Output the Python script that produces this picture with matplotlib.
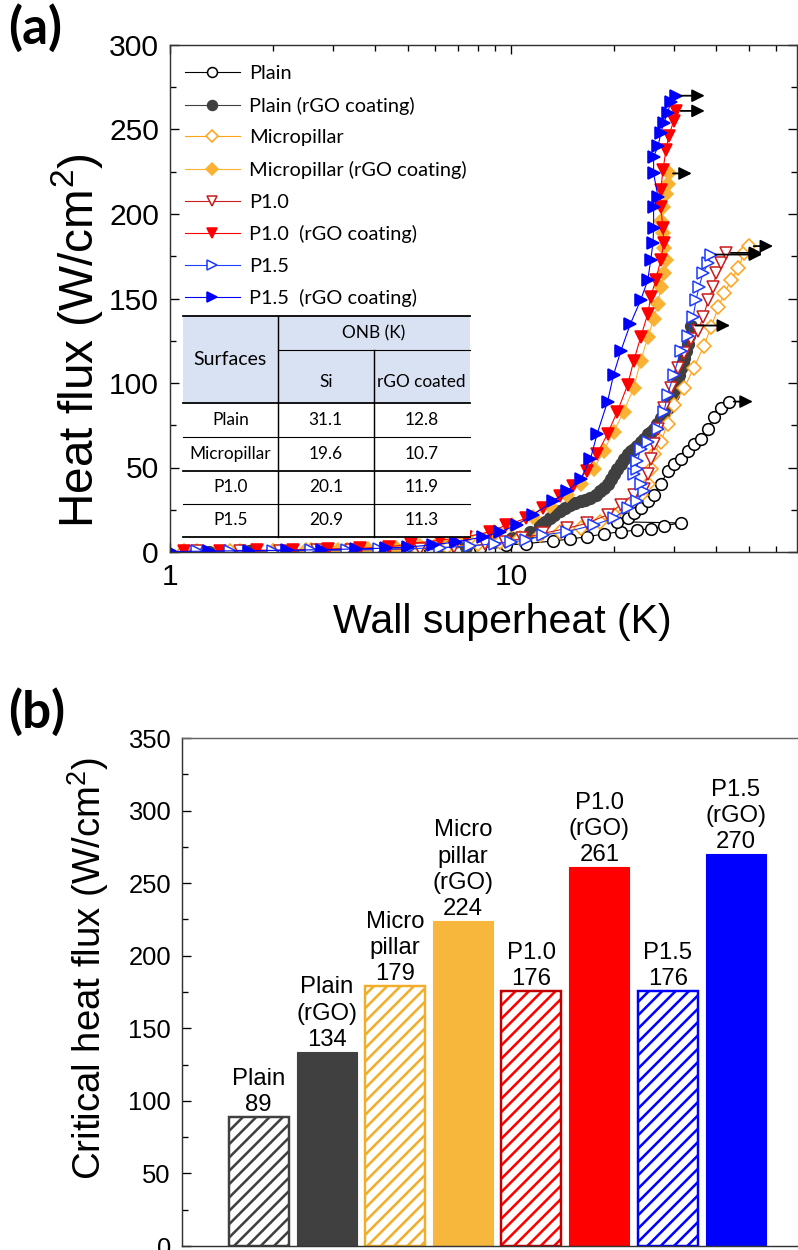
import matplotlib
matplotlib.use("Agg")
import matplotlib.pyplot as plt
from matplotlib.ticker import MultipleLocator, FixedLocator, NullFormatter, FixedFormatter

DPI = 80
plt.rcParams['font.family'] = ['Liberation Sans', 'DejaVu Sans']
plt.rcParams['mathtext.fontset'] = 'custom'
plt.rcParams['mathtext.rm'] = 'Liberation Sans'
plt.rcParams['hatch.linewidth'] = 2.3

# ---- (a) boiling curves: wall superheat (K) vs heat flux (W/cm2) ----
plain_x = [1.2, 1.6, 2.1, 2.8, 3.6, 4.6, 5.8, 7.0, 8.1, 9.7, 11.1, 13.3, 14.9, 16.7, 18.7,
           21.0, 23.5, 25.7, 28.1, 31.5, 20.5, 22.0, 23.0, 24.0, 25.2, 26.2, 27.5, 28.8,
           30.0, 31.5, 33.0, 34.4, 36.1, 37.9, 39.4, 41.4, 43.7]
plain_y = [0.2, 0.3, 0.5, 0.7, 0.9, 1.2, 1.5, 2.0, 2.5, 4.0, 5.0, 6.5, 7.7, 9.0, 10.7,
           12.0, 13.0, 13.7, 15.5, 17.2, 17.9, 20.0, 23.0, 26.0, 30.0, 34.0, 40.0, 48.0,
           52.0, 55.0, 60.0, 64.0, 67.0, 73.0, 80.0, 85.0, 89.0]

plain_rgo_x = [1.3, 1.7, 2.2, 2.8, 3.5, 4.3, 5.2, 6.2, 7.4, 8.9, 10.1, 11.4, 12.2, 12.6,
               13.0, 13.4, 13.9, 14.4, 14.9, 15.4, 16.0, 16.5, 17.1, 17.7, 18.3, 18.8,
               19.2, 19.6, 20.0, 20.5, 21.0, 21.5, 22.0, 22.5, 22.9, 23.4, 24.0, 24.6,
               25.2, 25.7, 26.2, 26.8, 27.5, 28.1, 28.8, 29.3, 29.9, 30.4, 30.9, 31.2,
               31.5, 31.9, 32.2, 32.6, 33.0, 33.3, 33.7]
plain_rgo_y = [0.2, 0.3, 0.4, 0.6, 0.8, 1.0, 1.2, 1.5, 3.0, 6.0, 8.0, 12.0, 16.0, 18.0,
               20.0, 22.0, 24.0, 26.0, 28.0, 29.0, 30.0, 31.0, 32.0, 34.0, 36.0, 38.0,
               40.0, 43.0, 46.0, 49.0, 52.0, 55.0, 58.0, 60.0, 61.0, 63.0, 65.0, 67.0,
               70.0, 71.0, 73.0, 76.0, 79.0, 82.0, 85.0, 89.0, 93.0, 97.0, 101.0, 105.0,
               109.0, 112.0, 115.0, 119.0, 123.0, 128.0, 134.0]

micro_x = [1.1, 1.5, 2.0, 2.6, 3.3, 4.2, 5.3, 6.5, 8.0, 9.3, 10.6, 12.2, 13.9, 16.0, 18.3,
           20.0, 22.0, 24.0, 25.2, 25.7, 26.2, 27.5, 28.8, 30.0, 32.2, 34.4, 36.8, 38.6,
           40.6, 42.2, 44.3, 46.4, 48.3, 50.0]
micro_y = [0.5, 0.5, 0.8, 1.0, 1.3, 1.6, 2.0, 3.0, 4.5, 6.0, 8.0, 10.0, 12.0, 14.0, 18.0,
           22.0, 28.0, 34.0, 40.0, 49.0, 58.0, 65.0, 76.0, 87.0, 97.0, 109.0, 122.0, 133.0,
           145.0, 153.0, 161.0, 168.0, 177.0, 181.0]

micro_rgo_x = [1.2, 1.6, 2.0, 2.5, 3.1, 3.8, 4.6, 5.4, 6.2, 7.4, 8.9, 10.1, 11.6, 13.0,
               14.6, 16.0, 17.5, 18.7, 20.0, 21.4, 22.9, 24.0, 25.2, 26.2, 27.0, 27.5,
               28.1, 28.5, 28.1, 27.9, 27.5, 27.9, 28.5, 28.8, 29.0]
micro_rgo_y = [0.3, 0.5, 0.8, 1.0, 1.3, 1.6, 2.2, 3.5, 6.5, 9.0, 12.0, 16.0, 21.0, 27.0,
               34.0, 40.0, 49.0, 60.0, 71.0, 83.0, 97.0, 113.0, 127.0, 138.0, 147.0, 157.0,
               165.0, 173.0, 180.0, 189.0, 196.0, 204.0, 212.0, 218.0, 224.0]

p10_x = [1.2, 1.6, 2.1, 2.7, 3.4, 4.3, 5.4, 6.8, 8.4, 9.6, 10.8, 12.4, 14.6, 16.7, 19.2,
         21.0, 22.9, 24.5, 25.2, 25.7, 26.2, 27.0, 28.1, 29.4, 30.9, 32.2, 33.7, 35.4,
         36.6, 37.9, 39.2, 40.0, 41.4, 42.8]
p10_y = [0.3, 0.5, 0.7, 0.9, 1.2, 1.5, 2.0, 3.0, 4.5, 6.0, 8.0, 11.0, 14.0, 17.0, 22.0,
         28.0, 34.0, 37.0, 46.0, 55.0, 64.0, 73.0, 85.0, 97.0, 109.0, 118.0, 126.0, 131.0,
         139.0, 149.0, 157.0, 165.0, 171.0, 177.0]

p10_rgo_x = [1.1, 1.4, 1.8, 2.3, 2.9, 3.6, 4.4, 5.1, 6.2, 7.4, 8.7, 9.7, 11.1, 12.4, 13.9,
             15.2, 16.7, 17.9, 19.2, 20.5, 22.0, 22.9, 24.0, 25.2, 25.7, 26.6, 27.5, 28.1,
             27.9, 27.5, 27.5, 27.9, 28.5, 29.0, 30.0, 30.5]
p10_rgo_y = [0.5, 0.8, 1.0, 1.3, 1.7, 2.2, 3.0, 5.0, 7.0, 9.0, 12.0, 16.0, 20.0, 26.0, 33.0,
             39.0, 48.0, 58.0, 70.0, 83.0, 99.0, 113.0, 127.0, 141.0, 151.0, 161.0, 173.0,
             183.0, 192.0, 204.0, 214.0, 226.0, 238.0, 246.0, 255.0, 261.0]

p15_x = [1.2, 1.5, 2.0, 2.6, 3.3, 4.1, 5.0, 6.2, 7.6, 9.0, 10.0, 11.1, 12.4, 14.6, 17.5,
         20.0, 22.0, 23.5, 24.5, 24.0, 22.9, 23.5, 23.5, 24.0, 25.2, 27.0, 28.1, 28.8, 30.0,
         31.5, 33.0, 34.2, 34.9, 35.6, 36.6, 37.9, 38.6]
p15_y = [0.3, 0.5, 0.7, 0.9, 1.2, 1.5, 2.0, 2.5, 3.5, 5.0, 6.0, 7.0, 10.0, 12.0, 16.0,
         20.0, 26.0, 30.0, 36.0, 40.0, 46.0, 49.0, 54.0, 61.0, 65.0, 73.0, 83.0, 93.0,
         105.0, 119.0, 128.0, 139.0, 149.0, 157.0, 165.0, 171.0, 176.0]

p15_rgo_x = [1.0, 1.3, 1.7, 2.2, 2.8, 3.5, 4.3, 5.0, 5.9, 6.9, 8.3, 9.3, 10.4, 11.6, 13.3,
             14.6, 16.0, 17.1, 17.9, 19.2, 20.0, 21.0, 22.4, 24.0, 25.2, 25.7, 26.1, 26.2,
             26.2, 27.0, 26.2, 26.2, 27.0, 27.5, 28.1, 28.8, 29.4, 30.5]
p15_rgo_y = [0.3, 0.5, 0.8, 1.0, 1.4, 1.8, 2.3, 3.0, 4.2, 6.0, 8.9, 11.9, 16.0, 22.0, 30.0,
             36.0, 43.0, 55.0, 70.0, 89.0, 105.0, 119.0, 135.0, 149.0, 161.0, 173.0, 183.0,
             192.0, 204.0, 210.0, 224.0, 234.0, 240.0, 248.0, 254.0, 260.0, 266.0, 270.0]

series_labels = ['Plain', 'Plain (rGO coating)', 'Micropillar', 'Micropillar (rGO coating)',
                 'P1.0', 'P1.0  (rGO coating)', 'P1.5', 'P1.5  (rGO coating)']
series_x = [plain_x, plain_rgo_x, micro_x, micro_rgo_x, p10_x, p10_rgo_x, p15_x, p15_rgo_x]
series_y = [plain_y, plain_rgo_y, micro_y, micro_rgo_y, p10_y, p10_rgo_y, p15_y, p15_rgo_y]
series_colors = ['black', '#404040', '#FFA31A', '#F9B233', '#C81E1E', '#FF0000', '#1E3CFF', '#0000FF']
series_markers = ['o', 'o', 'D', 'D', 'v', 'v', '>', '>']
series_filled = [False, True, False, True, False, True, False, True]
# end of the black CHF arrows (wall superheat, K)
arrow_end = [51.2, 43.9, 58.7, 33.9, 54.5, 37.0, 54.5, 37.0]

# ONB table
table_surfaces = ['Plain', 'Micropillar', 'P1.0', 'P1.5']
onb_si = ['31.1', '19.6', '20.1', '20.9']
onb_rgo = ['12.8', '10.7', '11.9', '11.3']

# ---- (b) critical heat flux ----
bar_labels = ['Plain', 'Plain\n(rGO)', 'Micro\npillar', 'Micro\npillar\n(rGO)',
              'P1.0', 'P1.0\n(rGO)', 'P1.5', 'P1.5\n(rGO)']
bar_values = [89, 134, 179, 224, 176, 261, 176, 270]
bar_fill = ['#404040', '#404040', '#F2AE2A', '#F6B73C', '#FF0000', '#FF0000', '#0000FF', '#0000FF']
bar_edge = ['#404040', '#404040', '#F0AE2A', '#F6B73C', '#C00000', '#FF0000', '#0000FF', '#0000FF']
bar_hatched = [True, False, True, False, True, False, True, False]

fig = plt.figure(figsize=(798 / DPI, 1250 / DPI), dpi=DPI)
W, H = 798.0, 1250.0

# ================= panel (a) =================
ax = fig.add_axes([170 / W, 1 - 552 / H, 627 / W, 507 / H])
for xs, ys, lab, c, m, f in zip(series_x, series_y, series_labels, series_colors,
                                 series_markers, series_filled):
    ms = 8.5 if m == 'D' else 10.5
    ax.plot(xs, ys, color=c, lw=1.0, marker=m, ms=ms, mec=c, mew=1.4,
            mfc=c if f else 'white', label=lab)
for xs, ys, xe in zip(series_x, series_y, arrow_end):
    ax.annotate('', xy=(xe, ys[-1]), xytext=(xs[-1] * 1.03, ys[-1]),
                arrowprops=dict(arrowstyle='-|>', color='black', lw=1.6, mutation_scale=24,
                                shrinkA=0, shrinkB=0))

ax.set_xscale('log')
ax.set_xlim(1, 69)
ax.set_ylim(0, 300)
ax.xaxis.set_major_locator(FixedLocator([1, 10]))
ax.xaxis.set_major_formatter(FixedFormatter(['1', '10']))
ax.xaxis.set_minor_locator(FixedLocator([2, 3, 4, 5, 6, 7, 8, 9, 20, 30, 40, 50, 60]))
ax.xaxis.set_minor_formatter(NullFormatter())
ax.yaxis.set_major_locator(MultipleLocator(50))
ax.yaxis.set_minor_locator(MultipleLocator(25))
ax.tick_params(which='both', direction='in', top=True, right=True, labelsize=27,
               width=1.2, pad=10)
ax.tick_params(which='major', length=8)
ax.tick_params(which='minor', length=5)
for s in ax.spines.values():
    s.set_linewidth(1.3)
    s.set_color('#333333')

ax.set_ylabel('Heat flux (W/cm$^\\mathregular{2}$)', fontsize=43)
ax.yaxis.set_label_coords(-0.104, 0.418)
ax.set_xlabel('Wall superheat (K)', fontsize=37)
ax.xaxis.set_label_coords(0.53, -0.100)

ax.legend(loc='upper left', bbox_to_anchor=(-0.008, 1.0), frameon=False,
          prop={'family': 'Lato', 'size': 18}, handlelength=2.75, handletextpad=0.45,
          labelspacing=0.73, borderaxespad=0.0, borderpad=1.0, numpoints=1,
          markerscale=0.85)

# ONB table drawn in axes coordinates
tc = [0.0207, 0.172, 0.325, 0.478]
tr = [0.4655, 0.398, 0.294, 0.2268, 0.1598, 0.0947, 0.0296]
tkw = dict(transform=ax.transAxes, zorder=6)
ax.add_patch(plt.Rectangle((tc[0], tr[6]), tc[3] - tc[0], tr[2] - tr[6],
                           facecolor='white', edgecolor='none', **tkw))
ax.add_patch(plt.Rectangle((tc[0], tr[2]), tc[3] - tc[0], tr[0] - tr[2],
                           facecolor='#D9E2F3', edgecolor='none', **tkw))
for r, x0, lw in [(tr[0], tc[0], 1.6), (tr[1], tc[1], 1.0), (tr[2], tc[0], 1.6),
                  (tr[3], tc[0], 1.0), (tr[4], tc[0], 1.6), (tr[5], tc[0], 1.0),
                  (tr[6], tc[0], 1.6)]:
    ax.plot([x0, tc[3]], [r, r], color='black', lw=lw, **tkw)
ax.plot([tc[1], tc[1]], [tr[0], tr[6]], color='black', lw=1.3, **tkw)
ax.plot([tc[2], tc[2]], [tr[1], tr[6]], color='black', lw=1.3, **tkw)
tfont = dict(family='Lato', ha='center', va='center', **tkw)
ax.text((tc[0] + tc[1]) / 2, (tr[0] + tr[2]) / 2, 'Surfaces', fontsize=17.5, **tfont)
ax.text((tc[1] + tc[3]) / 2, (tr[0] + tr[1]) / 2, 'ONB (K)', fontsize=15.5, **tfont)
ax.text((tc[1] + tc[2]) / 2, (tr[1] + tr[2]) / 2 - 0.01, 'Si', fontsize=15.5, **tfont)
ax.text((tc[2] + tc[3]) / 2, (tr[1] + tr[2]) / 2 - 0.01, 'rGO coated', fontsize=15.5, **tfont)
for i, (sname, a, b) in enumerate(zip(table_surfaces, onb_si, onb_rgo)):
    yc = (tr[2 + i] + tr[3 + i]) / 2
    ax.text((tc[0] + tc[1]) / 2, yc, sname, fontsize=15.5, **tfont)
    ax.text((tc[1] + tc[2]) / 2, yc, a, fontsize=15.5, **tfont)
    ax.text((tc[2] + tc[3]) / 2, yc, b, fontsize=15.5, **tfont)

fig.text(8 / W, 1 - 4 / H, '(a)', family='Lato', fontweight='bold', fontsize=46,
         va='top', ha='left')

# ================= panel (b) =================
bx = fig.add_axes([182 / W, 1 - 1246 / H, 620 / W, 508 / H])
pos = list(range(len(bar_values)))
for i, v in enumerate(bar_values):
    if bar_hatched[i]:
        bx.bar(pos[i], v, 0.88, facecolor='white', edgecolor=bar_fill[i], lw=0, hatch='//')
        bx.bar(pos[i], v, 0.88, fill=False, edgecolor=bar_edge[i], lw=2.2)
    else:
        bx.bar(pos[i], v, 0.88, color=bar_fill[i], edgecolor=bar_edge[i], lw=1)
    bx.text(pos[i], v + 0.5, f'{bar_labels[i]}\n{v}', ha='center', va='bottom',
            fontsize=21.5, linespacing=1.25)

bx.set_xlim(-1.122, 7.97)
bx.set_ylim(0, 350)
bx.set_xticks([])
bx.yaxis.set_major_locator(MultipleLocator(50))
bx.yaxis.set_minor_locator(MultipleLocator(25))
bx.tick_params(which='both', direction='in', labelsize=23, width=1.2, pad=10)
bx.tick_params(which='major', length=8)
bx.tick_params(which='minor', length=5)
for s in bx.spines.values():
    s.set_linewidth(1.3)
    s.set_color('#333333')
bx.spines['top'].set_color('#666666')
bx.spines['right'].set_visible(False)
bx.set_ylabel('Critical heat flux (W/cm$^\\mathregular{2}$)', fontsize=34.5)
bx.yaxis.set_label_coords(-0.115, 0.547)

fig.text(8 / W, 1 - 688 / H, '(b)', family='Lato', fontweight='bold', fontsize=46,
         va='top', ha='left')

fig.savefig('out.png', dpi=DPI)
